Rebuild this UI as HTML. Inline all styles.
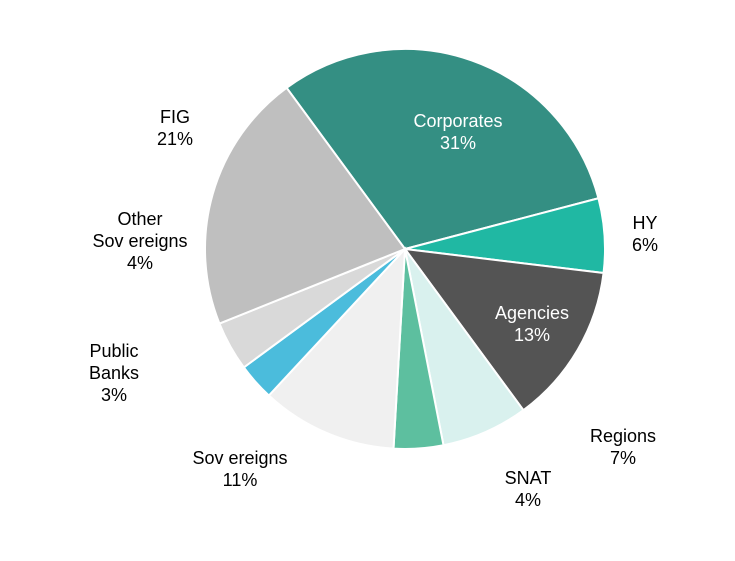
<!DOCTYPE html>
<html><head><meta charset="utf-8"><style>
body{margin:0;background:#fff;}
svg text{font-family:"Liberation Sans",Arial,sans-serif;font-size:18px;text-anchor:middle;}
</style></head><body>
<svg width="735" height="556" viewBox="0 0 735 556" xmlns="http://www.w3.org/2000/svg">
<g id="slices"></g>
<g id="labels"></g>
</svg>
<script>
const categories=["Corporates","HY","Agencies","Regions","SNAT","Sovereigns","Public Banks","Other Sovereigns","FIG"];
const values=[31,6,13,7,4,11,3,4,21];
const colors=["#348f83","#20b8a3","#545454","#d9f1ee","#5dbf9f","#f0f0f0","#4bbcdc","#d9d9d9","#bfbfbf"];
const labelLines=[["Corporates","31%"],["HY","6%"],["Agencies","13%"],["Regions","7%"],["SNAT","4%"],["Sov ereigns","11%"],["Public","Banks","3%"],["Other","Sov ereigns","4%"],["FIG","21%"]];
const labelPos=[[458,127],[645,229],[532,319],[623,442],[528,484],[240,464],[114,357],[140,225],[175,123]];
const whiteText=[true,false,true,false,false,false,false,false,false];
const cx=405,cy=249,r=200,start=-36.3;
const ns="http://www.w3.org/2000/svg";
const total=values.reduce((a,b)=>a+b,0);
function pt(a){const t=a*Math.PI/180;return [cx+r*Math.sin(t),cy-r*Math.cos(t)];}
let a=start;
const g=document.getElementById("slices"),lg=document.getElementById("labels");
values.forEach((v,i)=>{
 const sweep=v/total*360;const p1=pt(a),p2=pt(a+sweep);
 const path=document.createElementNS(ns,"path");
 path.setAttribute("d",`M${cx},${cy}L${p1[0]},${p1[1]}A${r},${r} 0 ${sweep>180?1:0} 1 ${p2[0]},${p2[1]}Z`);
 path.setAttribute("fill",colors[i]);path.setAttribute("stroke","#fff");path.setAttribute("stroke-width","2");
 
 
 g.appendChild(path);a+=sweep;
 const t=document.createElementNS(ns,"text");
 t.setAttribute("x",labelPos[i][0]);t.setAttribute("y",labelPos[i][1]);
 t.setAttribute("fill",whiteText[i]?"#fff":"#000");
 
 
 labelLines[i].forEach((l,j)=>{const s=document.createElementNS(ns,"tspan");s.setAttribute("x",labelPos[i][0]);s.setAttribute("dy",j?22:0);s.textContent=l;t.appendChild(s);});
 lg.appendChild(t);
});
</script>
</body></html>
